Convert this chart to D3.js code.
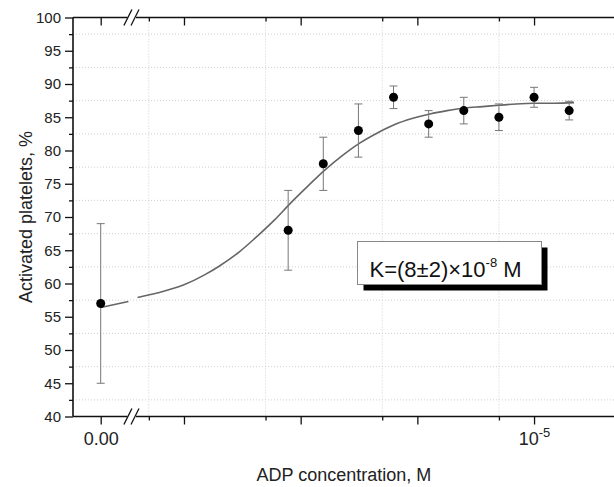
<!DOCTYPE html>
<html lang="en">
<head>
<meta charset="UTF-8">
<title>ADP activation</title>
<script src="https://d3js.org/d3.v7.min.js"></script>
<style>
    body { margin: 0; background: #fff; }
    svg { display: block; font-family: "Liberation Sans", Arial, sans-serif; }
</style>
</head>
<body>
<svg id="chart" width="614" height="487"></svg>
<script>
// measured points (concentration in M, % activated, error)
const conc = [0, 7.8125e-8, 1.5625e-7, 3.125e-7, 6.25e-7, 1.25e-6, 2.5e-6, 5e-6, 1e-5, 2e-5];
const activated = [57, 68, 78, 83, 88, 84, 86, 85, 88, 86];
const errors = [12, 6, 4, 4, 1.7, 2, 2, 2, 1.5, 1.4];

// fitted curve
const curveZeroConc = [0, 2e-9];
const curveZeroVal = [56.4, 57.3];
const curveConc = [4e-9, 6e-9, 1e-8, 1.5e-8, 2e-8, 3e-8, 4e-8, 6e-8, 8e-8, 1.1e-7, 1.6e-7, 2.3e-7,
    3.2e-7, 4.5e-7, 6.4e-7, 9e-7, 1.28e-6, 1.8e-6, 2.56e-6, 3.6e-6, 5e-6, 7e-6, 1e-5, 1.5e-5, 2.2e-5];
const curveVal = [57.9, 58.6, 59.8, 61.3, 62.6, 64.8, 66.7, 69.6, 71.9, 74.3, 77.0, 79.3,
    81.1, 82.6, 83.9, 84.8, 85.5, 86.0, 86.4, 86.6, 86.8, 87.0, 87.1, 87.1, 87.2];

const yMajor = [40, 45, 50, 55, 60, 65, 70, 75, 80, 85, 90, 95, 100];
const yMinor = [42.5, 47.5, 52.5, 57.5, 62.5, 67.5, 72.5, 77.5, 82.5, 87.5, 92.5, 97.5];
const xMajorLog = [1e-8, 1e-7, 1e-6, 1e-5];
const xMinorLog = [5e-9, 5e-8, 5e-7, 5e-6];

const svg = d3.select("#chart");
const mLeft = 73, mRight = 615, mTop = 17.5, mBottom = 416.5;
const breakL = 128.4, breakR = 136;

const y = d3.scaleLinear().domain([40, 100]).range([mBottom, mTop]);
const xLin = d3.scaleLinear().domain([-2e-9, 2e-9]).range([mLeft, breakL]);
const xLog = d3.scaleLog().domain([3.88e-9, 4.94e-5]).range([breakR, mRight]);
const xPos = c => c <= 2e-9 ? xLin(c) : xLog(c);

// grid
const grid = svg.append("g").attr("stroke", "#cfcfcf").attr("stroke-dasharray", "1,2").attr("stroke-width", 1);
grid.selectAll("line.h").data(yMinor).enter().append("line")
    .attr("x1", mLeft).attr("x2", mRight).attr("y1", d => y(d)).attr("y2", d => y(d));
grid.selectAll("line.v").data(xMinorLog).enter().append("line")
    .attr("x1", d => xLog(d)).attr("x2", d => xLog(d)).attr("y1", mTop).attr("y2", mBottom);

// fitted curve
const line = d3.line().x(d => xPos(d[0])).y(d => y(d[1])).curve(d3.curveMonotoneX);
svg.append("path").datum(curveZeroConc.map((c, i) => [c, curveZeroVal[i]]))
    .attr("d", line).attr("fill", "none").attr("stroke", "#666").attr("stroke-width", 1.6);
svg.append("path").datum(curveConc.map((c, i) => [c, curveVal[i]]))
    .attr("d", line).attr("fill", "none").attr("stroke", "#666").attr("stroke-width", 1.6);

// error bars and points
const pts = conc.map((c, i) => ({ c: c, v: activated[i], e: errors[i] }));
const eb = svg.append("g").attr("stroke", "#777").attr("stroke-width", 1);
eb.selectAll("line.bar").data(pts).enter().append("line")
    .attr("x1", d => xPos(d.c)).attr("x2", d => xPos(d.c))
    .attr("y1", d => y(d.v - d.e)).attr("y2", d => y(d.v + d.e));
[-1, 1].forEach(s => {
    eb.selectAll("line.cap" + (s + 1)).data(pts).enter().append("line")
        .attr("class", "cap" + (s + 1))
        .attr("x1", d => xPos(d.c) - 4).attr("x2", d => xPos(d.c) + 4)
        .attr("y1", d => y(d.v + s * d.e)).attr("y2", d => y(d.v + s * d.e));
});
svg.selectAll("circle").data(pts).enter().append("circle")
    .attr("cx", d => xPos(d.c)).attr("cy", d => y(d.v)).attr("r", 4.5).attr("fill", "#000");

// axes
function styleAxis(g) {
    g.select(".domain").remove();
    g.selectAll(".tick line").attr("stroke", "#111").attr("stroke-width", 1.3);
}
svg.append("g").attr("transform", `translate(${mLeft},0)`)
    .call(d3.axisLeft(y).tickValues(yMajor).tickSize(8).tickPadding(4))
    .call(styleAxis)
    .call(g => g.selectAll("text").attr("font-size", 15).attr("fill", "#222").attr("font-family", null));
svg.append("g").attr("transform", `translate(${mLeft},0)`)
    .call(d3.axisLeft(y).tickValues(yMinor).tickSize(4).tickFormat(""))
    .call(styleAxis);
svg.append("g").attr("transform", `translate(${mRight},0)`)
    .call(d3.axisLeft(y).tickValues(yMajor).tickSize(-8).tickFormat(""))
    .call(styleAxis);
svg.append("g").attr("transform", `translate(${mRight},0)`)
    .call(d3.axisLeft(y).tickValues(yMinor).tickSize(-4).tickFormat(""))
    .call(styleAxis);

// bottom axis
svg.append("g").attr("transform", `translate(0,${mBottom})`)
    .call(d3.axisBottom(xLin).tickValues([0]).tickSize(8).tickPadding(8).tickFormat(d3.format(".2f")))
    .call(styleAxis)
    .call(g => g.selectAll("text").attr("font-size", 18).attr("fill", "#222").attr("font-family", null));
svg.append("g").attr("transform", `translate(0,${mBottom})`)
    .call(d3.axisBottom(xLog).tickValues(xMajorLog).tickSize(8).tickPadding(8).tickFormat(""))
    .call(styleAxis)
    .call(g => g.selectAll(".tick").filter(d => d === 1e-5).select("text")
        .attr("font-size", 18).attr("fill", "#222").attr("font-family", null)
        .call(t => {
            t.append("tspan").text("10");
            t.append("tspan").text("-5").attr("font-size", 13).attr("dy", "-8");
        }));
svg.append("g").attr("transform", `translate(0,${mBottom})`)
    .call(d3.axisBottom(xLog).tickValues(xMinorLog).tickSize(4).tickFormat(""))
    .call(styleAxis);

// top axis
svg.append("g").attr("transform", `translate(0,${mTop})`)
    .call(d3.axisBottom(xLin).tickValues([0]).tickSize(8).tickFormat(""))
    .call(styleAxis);
svg.append("g").attr("transform", `translate(0,${mTop})`)
    .call(d3.axisBottom(xLog).tickValues(xMajorLog).tickSize(8).tickFormat(""))
    .call(styleAxis);
svg.append("g").attr("transform", `translate(0,${mTop})`)
    .call(d3.axisBottom(xLog).tickValues(xMinorLog).tickSize(4).tickFormat(""))
    .call(styleAxis);

// frame with breaks
const frame = svg.append("g").attr("stroke", "#111").attr("stroke-width", 1.6).attr("fill", "none");
[mTop, mBottom].forEach(yy => {
    frame.append("line").attr("x1", mLeft).attr("x2", breakL - 1).attr("y1", yy).attr("y2", yy);
    frame.append("line").attr("x1", breakR).attr("x2", mRight).attr("y1", yy).attr("y2", yy);
    [breakL - 0.5, breakR - 1].forEach(cx => {
        frame.append("line").attr("stroke-width", 1.3)
            .attr("x1", cx - 4).attr("y1", yy + 8).attr("x2", cx + 4).attr("y2", yy - 8);
    });
});
frame.append("line").attr("x1", mLeft).attr("x2", mLeft).attr("y1", mTop).attr("y2", mBottom);
frame.append("line").attr("x1", mRight).attr("x2", mRight).attr("y1", mTop).attr("y2", mBottom);

// titles
svg.append("text").attr("x", 344).attr("y", 481).attr("text-anchor", "middle")
    .attr("font-size", 18).attr("fill", "#222").text("ADP concentration, M");
svg.append("text").attr("transform", `translate(32,${(mTop + mBottom) / 2}) rotate(-90)`)
    .attr("text-anchor", "middle").attr("font-size", 18).attr("fill", "#222").text("Activated platelets, %");

// K annotation box
const bx = 357.5, by = 241.5, bw = 184, bh = 43;
svg.append("rect").attr("x", bx + 6).attr("y", by + 6).attr("width", bw).attr("height", bh).attr("fill", "#000");
svg.append("rect").attr("x", bx).attr("y", by).attr("width", bw).attr("height", bh)
    .attr("fill", "#fff").attr("stroke", "#888").attr("stroke-width", 1);
const kt = svg.append("text").attr("x", bx + 12).attr("y", by + 35).attr("font-size", 22).attr("fill", "#111");
kt.append("tspan").text("K=(8±2)×10");
kt.append("tspan").text("-8").attr("font-size", 13).attr("dy", -10);
kt.append("tspan").text(" M").attr("dy", 10).attr("font-size", 22);
</script>
</body>
</html>
